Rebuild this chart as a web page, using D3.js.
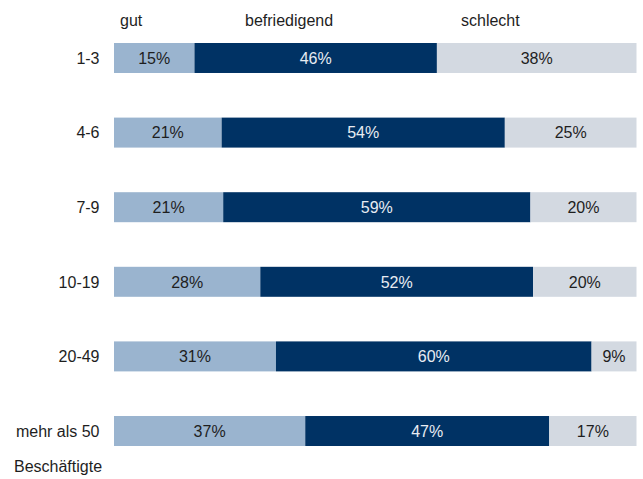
<!DOCTYPE html>
<html>
<head>
<meta charset="utf-8">
<script src="https://cdn.jsdelivr.net/npm/d3@7"></script>
<style>
  body { margin: 0; background: #fff; }
  text { font-family: "Liberation Sans", Arial, sans-serif; font-size: 16px; }
</style>
</head>
<body>
<div id="chart"></div>
<script>
var categories = ["1-3", "4-6", "7-9", "10-19", "20-49", "mehr als 50"];
var series = ["gut", "befriedigend", "schlecht"];
var gut = [15.4, 20.6, 20.9, 28.0, 31.0, 36.6];
var befriedigend = [46.4, 54.2, 58.8, 52.2, 60.4, 46.7];
var schlecht = [38.2, 25.2, 20.3, 19.8, 8.6, 16.7];
var axisTitle = "Beschäftigte";

var colors = ["#9ab4cf", "#003264", "#d3d9e1"];
var labelColors = ["#1e1e1e", "#e8ecf2", "#1e1e1e"];

var width = 643, height = 479;

var rows = categories.map(function(c, i) {
    return { cat: c, gut: gut[i], befriedigend: befriedigend[i], schlecht: schlecht[i] };
});

var stacked = d3.stack().keys(series)(rows);

var x = d3.scaleLinear().domain([0, 100]).range([114, 636.5]);
var y = d3.scaleBand().domain(categories).range([43, 446]).paddingInner(0.598).paddingOuter(0);

var svg = d3.select("#chart")
    .append("svg")
    .attr("width", width)
    .attr("height", height);

// legend header
var legendX = [120, 245, 461];
svg.selectAll(".legend")
    .data(series)
    .enter()
    .append("text")
    .attr("class", "legend")
    .attr("x", function(d, i) { return legendX[i]; })
    .attr("y", 25.5)
    .attr("fill", "#1e1e1e")
    .text(function(d) { return d; });

var layer = svg.selectAll(".layer")
    .data(stacked)
    .enter()
    .append("g")
    .attr("class", "layer");

layer.selectAll("rect")
    .data(function(d) { return d; })
    .enter()
    .append("rect")
    .attr("x", function(d) { return x(d[0]); })
    .attr("y", function(d) { return y(d.data.cat); })
    .attr("width", function(d) { return x(d[1]) - x(d[0]); })
    .attr("height", y.bandwidth())
    .attr("fill", function(d) { return colors[series.indexOf(d3.select(this.parentNode).datum().key)]; });

layer.selectAll("text")
    .data(function(d) { return d.map(function(p) { return { p: p, key: d.key }; }); })
    .enter()
    .append("text")
    .attr("x", function(d) { return (x(d.p[0]) + x(d.p[1])) / 2; })
    .attr("y", function(d) { return y(d.p.data.cat) + y.bandwidth() / 2; })
    .attr("dy", "0.36em")
    .attr("text-anchor", "middle")
    .attr("fill", function(d) { return labelColors[series.indexOf(d.key)]; })
    .text(function(d) { return Math.round(d.p[1] - d.p[0]) + "%"; });

// category labels
var yAxis = svg.append("g")
    .attr("transform", "translate(99.5,0)")
    .call(d3.axisLeft(y).tickSize(0).tickPadding(0));
yAxis.select(".domain").remove();
yAxis.selectAll("text")
    .attr("fill", "#1e1e1e")
    .style("font-size", "16px")
    .style("font-family", "'Liberation Sans', Arial, sans-serif")
    .attr("dy", "0.36em");

svg.append("text")
    .attr("x", 14)
    .attr("y", 471.5)
    .attr("fill", "#1e1e1e")
    .text(axisTitle);
</script>
</body>
</html>
